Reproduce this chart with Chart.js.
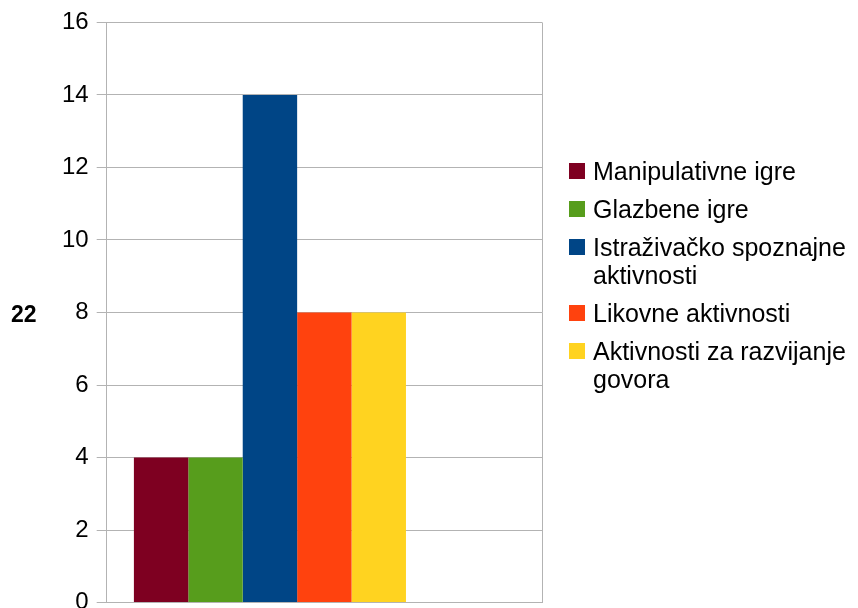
<!DOCTYPE html>
<html>
<head>
<meta charset="utf-8">
<script src="https://cdn.jsdelivr.net/npm/chart.js@4"></script>
<style>
  html, body { margin: 0; padding: 0; background: #fff; overflow: hidden; }
  #wrap { position: relative; width: 858px; height: 625px; }
  #axis_title {
    position: absolute; left: 11px; top: 300px;
    font: bold 23px "Liberation Sans", Arial, sans-serif; line-height: 28px; color: #000;
  }
  #legend {
    position: absolute; left: 569px; top: 157px;
    font: 25px "Liberation Sans", Arial, sans-serif; line-height: 28px; color: #000;
  }
  .item { position: relative; padding-left: 24px; margin-bottom: 10px; white-space: nowrap; }
  .item span.box { position: absolute; left: 0; top: 6px; width: 16px; height: 16px; }
</style>
</head>
<body>
<div id="wrap">
  <canvas id="chart_igre"></canvas>
  <div id="axis_title">22</div>
  <div id="legend"></div>
</div>
<script>
var categories = ['']

var series_names = [
  ['Manipulativne igre'],
  ['Glazbene igre'],
  ['Istraživačko spoznajne', 'aktivnosti'],
  ['Likovne aktivnosti'],
  ['Aktivnosti za razvijanje', 'govora']
]

var series_values = [4, 4, 14, 8, 8]

var series_colors = ['#7E0021', '#579D1C', '#004586', '#FF420E', '#FFD320']

var y_ticks = { min: 0, max: 16, step: 2 }

// two empty series in the original sheet, they still take their slot in the group
var empty_series = 2

var datasets = []
for (var i = 0; i < series_values.length; i++) {
  datasets.push({
    label: series_names[i].join(' '),
    data: [series_values[i]],
    backgroundColor: series_colors[i],
    borderWidth: 0
  })
}
for (var j = 0; j < empty_series; j++) {
  datasets.push({ label: '', data: [null], backgroundColor: '#fff', borderWidth: 0 })
}

var ctx = document.getElementById('chart_igre').getContext('2d')

var chart = new Chart(ctx, {
  type: 'bar',
  data: {
    labels: categories,
    datasets: datasets
  },
  options: {
    responsive: true,
    maintainAspectRatio: false,
    animation: false,
    layout: {
      padding: { left: 54, top: 8, right: 316, bottom: 0 }
    },
    datasets: {
      bar: { categoryPercentage: 0.875, barPercentage: 1 }
    },
    plugins: {
      legend: { display: false },
      tooltip: { enabled: false }
    },
    scales: {
      x: {
        ticks: { display: false },
        grid: { color: '#b3b3b3', drawTicks: false },
        border: { color: '#b3b3b3' }
      },
      y: {
        min: y_ticks.min,
        max: y_ticks.max,
        ticks: {
          stepSize: y_ticks.step,
          color: '#000',
          padding: 8,
          font: { family: 'Liberation Sans', size: 24 }
        },
        grid: { color: '#b3b3b3', tickLength: 10 },
        border: { color: '#b3b3b3' }
      }
    }
  }
})

// legend built from the same arrays
var legend = document.getElementById('legend')
for (var k = 0; k < series_names.length; k++) {
  var item = document.createElement('div')
  item.className = 'item'
  var box = document.createElement('span')
  box.className = 'box'
  box.style.background = series_colors[k]
  item.appendChild(box)
  item.appendChild(document.createTextNode(series_names[k][0]))
  for (var m = 1; m < series_names[k].length; m++) {
    item.appendChild(document.createElement('br'))
    item.appendChild(document.createTextNode(series_names[k][m]))
  }
  legend.appendChild(item)
}
</script>
</body>
</html>
